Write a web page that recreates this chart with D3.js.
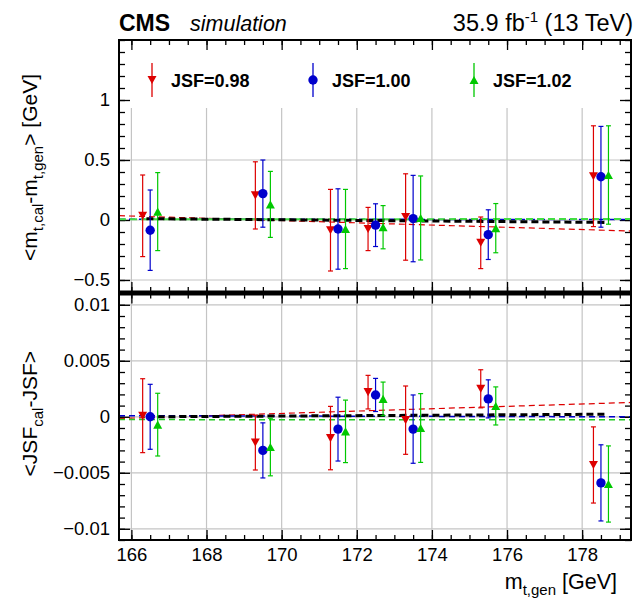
<!DOCTYPE html>
<html>
<head>
<meta charset="utf-8">
<script src="https://cdn.jsdelivr.net/npm/d3@7"></script>
<style>
  body { margin: 0; background: #fff; }
  text { font-family: "Liberation Sans", Arial, sans-serif; fill: #000; }
</style>
</head>
<body>
<svg id="chart" width="644" height="602"></svg>
<script>
// simulated top-mass points
const massPoints = [166.5, 169.5, 171.5, 172.5, 173.5, 175.5, 178.5];
const jsfLabels = ["JSF=0.98", "JSF=1.00", "JSF=1.02"];

// <m_cal - m_gen> [GeV] and symmetric errors
const mDiff098 = [0.035, 0.205, -0.085, -0.075, 0.025, -0.19, 0.365];
const mErr098 = [0.34, 0.28, 0.34, 0.18, 0.36, 0.215, 0.42];
const mDiff100 = [-0.085, 0.22, -0.075, -0.043, 0.012, -0.122, 0.36];
const mErr100 = [0.335, 0.28, 0.335, 0.178, 0.36, 0.207, 0.42];
const mDiff102 = [0.07, 0.13, -0.075, -0.06, 0.017, -0.068, 0.375];
const mErr102 = [0.325, 0.275, 0.33, 0.18, 0.35, 0.205, 0.41];

// <JSF_cal - JSF> and symmetric errors
const jDiff098 = [0.0001, -0.0023, -0.0019, 0.0022, -0.0003, 0.0025, -0.0043];
const jErr098 = [0.0033, 0.00245, 0.00283, 0.0015, 0.00305, 0.0017, 0.0034];
const jDiff100 = [0.0, -0.003, -0.0011, 0.00195, -0.0011, 0.0016, -0.0059];
const jErr100 = [0.0029, 0.00246, 0.00285, 0.00148, 0.00305, 0.0017, 0.0034];
const jDiff102 = [-0.0007, -0.0027, -0.0013, 0.0016, -0.001, 0.00097, -0.006];
const jErr102 = [0.0028, 0.00257, 0.00279, 0.0015, 0.00307, 0.0017, 0.0034];

// linear fits: value at left end and right end
const fitRangeFull = [165.67, 179.3];
const fitRangeComb = [166.4, 178.6];
const mFit098 = [0.036, -0.092];
const mFit100 = [0.007, 0.004];
const mFit102 = [0.006, 0.008];
const mFitComb = [0.011, -0.02];
const jFit098 = [-0.00015, 0.00128];
const jFit100 = [0.0001, 0.0];
const jFit102 = [-0.00025, -0.00027];
const jFitComb = [0.0, 0.00023];

const xMajor = [166, 168, 170, 172, 174, 176, 178];
const mMajor = [-0.5, 0, 0.5, 1];
const jMajor = [-0.01, -0.005, 0, 0.005, 0.01];

const colors = ["#dd0000", "#0000cc", "#00c800"];
const shifts = [-0.2, 0, 0.2];

const svg = d3.select("#chart");
const left = 119, right = 631;

const x = d3.scaleLinear().domain([165.67, 179.3]).range([left, right]);
const yTop = d3.scaleLinear().domain([-0.6, 1.5]).range([292, 40]);
const yBot = d3.scaleLinear().domain([-0.011, 0.011]).range([540, 293.6]);

const fmt = d3.format("~g");

function panel(y, major, minorStep, legendBox) {
	const g = svg.append("g");
	const [y0, y1] = y.range();
	// grid
	g.selectAll(".vg").data(xMajor).enter().append("line")
		.attr("x1", d => x(d)).attr("x2", d => x(d))
		.attr("y1", y0).attr("y2", y1)
		.attr("stroke", "#c4c4c4").attr("stroke-width", 1.2);
	g.selectAll(".hg").data(major.filter(v => v > y.domain()[0] && v < y.domain()[1])).enter().append("line")
		.attr("x1", left).attr("x2", right)
		.attr("y1", d => y(d)).attr("y2", d => y(d))
		.attr("stroke", "#c4c4c4").attr("stroke-width", 1.2);

	if (legendBox) {
		g.append("rect").attr("x", left).attr("y", y1).attr("width", right - left)
			.attr("height", 108 - y1).attr("fill", "#fff");
	}

	const minor = d3.range(Math.ceil(y.domain()[0] / minorStep), Math.floor(y.domain()[1] / minorStep) + 1)
		.map(i => i * minorStep);
	const xMinor = d3.range(166, 179.01, 0.5);

	// y axes (ticks pointing inward)
	g.append("g").attr("transform", `translate(${left},0)`)
		.call(d3.axisLeft(y).tickValues(minor).tickSize(-6).tickFormat(""));
	g.append("g").attr("transform", `translate(${left},0)`)
		.call(d3.axisLeft(y).tickValues(major).tickSize(-11).tickPadding(9).tickFormat(fmt))
		.attr("class", "ylab");
	g.append("g").attr("transform", `translate(${right},0)`)
		.call(d3.axisRight(y).tickValues(minor).tickSize(-6).tickFormat(""));
	g.append("g").attr("transform", `translate(${right},0)`)
		.call(d3.axisRight(y).tickValues(major).tickSize(-11).tickFormat(""));

	// x ticks top and bottom
	g.append("g").attr("transform", `translate(0,${y0})`)
		.call(d3.axisBottom(x).tickValues(xMinor).tickSize(-5).tickFormat(""));
	g.append("g").attr("transform", `translate(0,${y0})`)
		.call(d3.axisBottom(x).tickValues(xMajor).tickSize(-10).tickFormat(""));
	g.append("g").attr("transform", `translate(0,${y1})`)
		.call(d3.axisTop(x).tickValues(xMinor).tickSize(-5).tickFormat(""));
	g.append("g").attr("transform", `translate(0,${y1})`)
		.call(d3.axisTop(x).tickValues(xMajor).tickSize(-10).tickFormat(""));

	g.selectAll(".domain").remove();
	g.selectAll(".tick line").attr("stroke", "#000").attr("stroke-width", 1.3);
	g.selectAll(".ylab text").style("font-size", "18.5px")
		.style("font-family", "Liberation Sans, Arial, sans-serif");

	return g;
}

function fitLine(g, y, range, vals, color, width, dash) {
	const line = d3.line().x(d => x(d[0])).y(d => y(d[1]));
	g.append("path")
		.datum([[range[0], vals[0]], [range[1], vals[1]]])
		.attr("d", line)
		.attr("fill", "none").attr("stroke", color)
		.attr("stroke-width", width).attr("stroke-dasharray", dash);
}

function marker(sel, k, size) {
	if (k === 1) {
		return sel.append("circle").attr("r", size * 0.52).attr("fill", colors[k]);
	}
	const h = size * 0.9, w = size * 0.5;
	const p = k === 0
		? `M${-w},${-h / 2}L${w},${-h / 2}L0,${h / 2}Z`
		: `M${-w},${h / 2}L${w},${h / 2}L0,${-h / 2}Z`;
	return sel.append("path").attr("d", p).attr("fill", colors[k]);
}

function points(g, y, series, errs) {
	series.forEach((vals, k) => {
		const pg = g.append("g");
		vals.forEach((v, i) => {
			const cx = x(massPoints[i] + shifts[k]);
			const lo = y(v - errs[k][i]), hi = y(v + errs[k][i]);
			pg.append("line").attr("x1", cx).attr("x2", cx).attr("y1", lo).attr("y2", hi)
				.attr("stroke", colors[k]).attr("stroke-width", 1.2);
			[lo, hi].forEach(yy => pg.append("line")
				.attr("x1", cx - 2.5).attr("x2", cx + 2.5).attr("y1", yy).attr("y2", yy)
				.attr("stroke", colors[k]).attr("stroke-width", 1.2));
			const m = pg.append("g").attr("transform", `translate(${cx},${y(v)})`);
			marker(m, k, 9);
		});
	});
}

// ---- upper panel
const upper = panel(yTop, mMajor, 0.1, true);
fitLine(upper, yTop, fitRangeFull, mFit098, colors[0], 1.2, "6,4");
fitLine(upper, yTop, fitRangeFull, mFit100, colors[1], 1.5, "6,4");
fitLine(upper, yTop, fitRangeFull, mFit102, "#44dd44", 2, "7,4");
fitLine(upper, yTop, fitRangeComb, mFitComb, "#000", 3, "7,4");
points(upper, yTop, [mDiff098, mDiff100, mDiff102], [mErr098, mErr100, mErr102]);

// legend
const legX = [152, 313, 474];
jsfLabels.forEach((lab, k) => {
	const lg = svg.append("g").attr("transform", `translate(${legX[k]},80)`);
	lg.append("line").attr("y1", -17).attr("y2", 17).attr("stroke", colors[k]).attr("stroke-width", 1.3);
	marker(lg, k, 9);
	lg.append("text").attr("x", 19).attr("y", 7).text(lab)
		.style("font-size", "18px").style("font-weight", "bold");
});

// ---- lower panel
const lower = panel(yBot, jMajor, 0.001, false);
fitLine(lower, yBot, fitRangeFull, jFit098, colors[0], 1.2, "6,4");
fitLine(lower, yBot, fitRangeFull, jFit102, "#22cc22", 1.5, "6,4");
fitLine(lower, yBot, fitRangeFull, jFit100, colors[1], 1.5, "6,4");
fitLine(lower, yBot, fitRangeComb, jFitComb, "#000", 3, "7,4");
points(lower, yBot, [jDiff098, jDiff100, jDiff102], [jErr098, jErr100, jErr102]);

// frames
svg.append("rect").attr("x", left).attr("y", 40).attr("width", right - left).attr("height", 252)
	.attr("fill", "none").attr("stroke", "#000").attr("stroke-width", 2);
svg.append("rect").attr("x", left).attr("y", 293.6).attr("width", right - left).attr("height", 246.4)
	.attr("fill", "none").attr("stroke", "#000").attr("stroke-width", 2);
svg.append("rect").attr("x", left - 1).attr("y", 290.5).attr("width", right - left + 2).attr("height", 5)
	.attr("fill", "#000");

// x labels
svg.append("g").attr("transform", "translate(0,540)")
	.call(d3.axisBottom(x).tickValues(xMajor).tickSize(0).tickPadding(8).tickFormat(d3.format("d")))
	.call(g => g.select(".domain").remove())
	.selectAll("text").style("font-size", "18.5px")
	.style("font-family", "Liberation Sans, Arial, sans-serif");

// titles
const xt = svg.append("text").attr("x", 617).attr("y", 589).attr("text-anchor", "end")
	.style("font-size", "21.5px");
xt.append("tspan").text("m");
xt.append("tspan").attr("dy", 6).style("font-size", "15px").text("t,gen");
xt.append("tspan").attr("dy", -6).text(" [GeV]");

const yt1 = svg.append("text").attr("transform", "translate(37,74) rotate(-90)")
	.attr("text-anchor", "end").style("font-size", "21px");
yt1.append("tspan").text("<m");
yt1.append("tspan").attr("dy", 6).style("font-size", "15px").text("t,cal");
yt1.append("tspan").attr("dy", -6).text("-m");
yt1.append("tspan").attr("dy", 6).style("font-size", "15px").text("t,gen");
yt1.append("tspan").attr("dy", -6).text("> [GeV]");

const yt2 = svg.append("text").attr("transform", "translate(37,351) rotate(-90)")
	.attr("text-anchor", "end").style("font-size", "21px");
yt2.append("tspan").text("<JSF");
yt2.append("tspan").attr("dy", 6).style("font-size", "15px").text("cal");
yt2.append("tspan").attr("dy", -6).text("-JSF>");

// header
svg.append("text").attr("x", 119).attr("y", 31).text("CMS")
	.style("font-size", "23px").style("font-weight", "bold");
svg.append("text").attr("x", 190).attr("y", 31).text("simulation")
	.style("font-size", "21.5px").style("font-style", "italic");
const lumi = svg.append("text").attr("x", 633).attr("y", 31).attr("text-anchor", "end")
	.style("font-size", "23.5px");
lumi.append("tspan").text("35.9 fb");
lumi.append("tspan").attr("dy", -9).style("font-size", "15px").text("-1");
lumi.append("tspan").attr("dy", 9).text(" (13 TeV)");
</script>
</body>
</html>
